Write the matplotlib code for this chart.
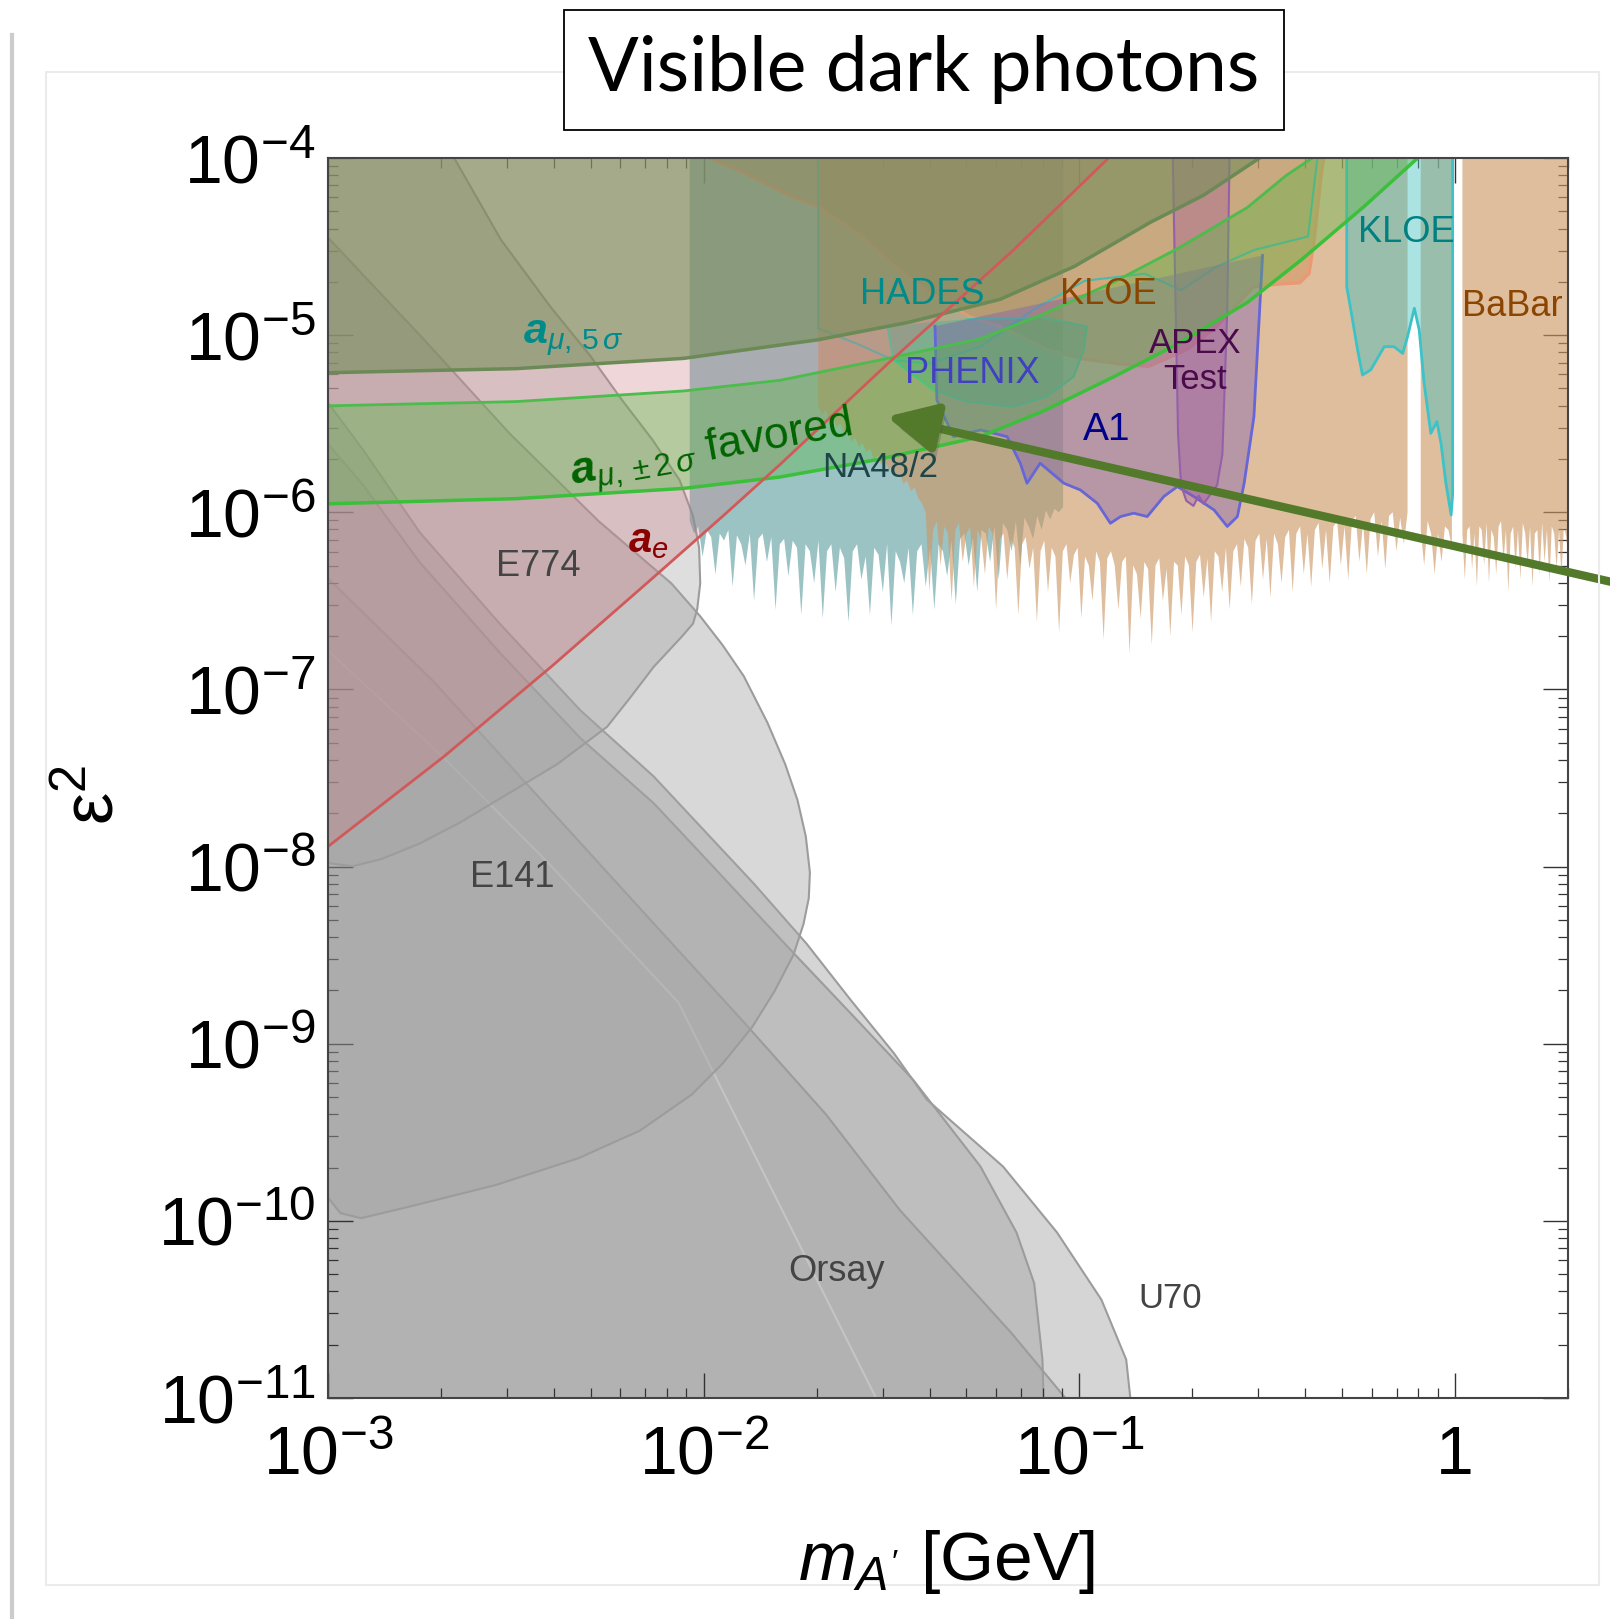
import numpy as np
import matplotlib
matplotlib.use("Agg")
import matplotlib.pyplot as plt
import matplotlib.patheffects as pe
from matplotlib.ticker import LogLocator, FixedLocator, FixedFormatter, NullFormatter
from matplotlib.patches import Rectangle
from matplotlib.lines import Line2D

plt.rcParams['font.family'] = ['Liberation Sans', 'DejaVu Sans']
plt.rcParams['mathtext.fontset'] = 'custom'
plt.rcParams['mathtext.rm'] = 'Liberation Sans'
plt.rcParams['mathtext.it'] = 'Liberation Sans:italic'
plt.rcParams['mathtext.bf'] = 'Liberation Sans:bold'
try:
    plt.rcParams['mathtext.bfit'] = 'Liberation Sans:bold:italic'
except KeyError:
    pass

# ---- data (log10 m [GeV], log10 eps^2) ----
# beam dumps
e774_m = [-2.664, -2.540, -2.408, -2.301, -2.218, -2.136, -2.064, -2.028, -2.012, -2.009, -2.017,
          -2.028, -2.059, -2.133, -2.196, -2.257, -2.389, -2.535, -2.650, -2.755, -2.857, -2.934, -3.0]
e774_e = [-4.0, -4.460, -4.839, -5.119, -5.364, -5.591, -5.818, -6.022, -6.20, -6.401, -6.547,
          -6.628, -6.704, -6.873, -7.048, -7.211, -7.421, -7.607, -7.753, -7.869, -7.957, -7.998, -7.980]
e141_m = [-3.0, -2.744, -2.516, -2.279, -2.086, -2.009, -1.949, -1.893, -1.830, -1.783, -1.750,
          -1.728, -1.717, -1.720, -1.734, -1.761, -1.811, -1.871, -1.949, -2.031, -2.169, -2.334,
          -2.554, -2.774, -2.912, -2.967, -3.0]
e141_e = [-4.449, -5.026, -5.556, -6.051, -6.401, -6.587, -6.751, -6.925, -7.188, -7.421, -7.625,
          -7.829, -8.033, -8.178, -8.324, -8.499, -8.703, -8.907, -9.111, -9.286, -9.490, -9.647,
          -9.798, -9.915, -9.985, -9.956, -9.868]
u70_m = [-3.0, -2.906, -2.755, -2.543, -2.328, -2.133, -1.866, -1.726, -1.610, -1.494, -1.406,
         -1.203, -1.059, -0.941, -0.875, -0.864]
u70_e = [-5.381, -5.649, -6.115, -6.628, -7.118, -7.491, -8.097, -8.435, -8.749, -9.052, -9.315,
         -9.693, -10.066, -10.445, -10.783, -11.0]
orsay_m = [-3.0, -2.906, -2.755, -2.543, -2.328, -2.133, -2.009, -1.761, -1.610, -1.442, -1.263,
           -1.167, -1.120, -1.098, -1.095]
orsay_e = [-5.614, -5.847, -6.284, -6.791, -7.275, -7.642, -7.922, -8.487, -8.825, -9.204, -9.693,
           -10.066, -10.352, -10.783, -11.0]
e137_m = [-3.0, -2.719, -2.444, -2.169, -1.893, -1.673, -1.478, -1.181, -1.037]
e137_e = [-6.372, -6.955, -7.596, -8.237, -8.878, -9.402, -9.938, -10.632, -11.0]
edge_m = [-3.0, -2.683, -2.408, -2.067, -1.541]
edge_e = [-6.780, -7.403, -7.992, -8.767, -11.0]

# anomalous moments
ae_m = [-3.0, -2.692, -2.403, -2.136, -1.949, -1.797, -1.503, -1.175, -0.922]
ae_e = [-7.887, -7.380, -6.867, -6.372, -6.022, -5.731, -5.148, -4.519, -4.0]
mu5_m = [-3.0, -2.499, -2.053, -1.695, -1.453, -1.211, -1.013, -0.809, -0.669, -0.52]
mu5_e = [-5.212, -5.189, -5.131, -5.026, -4.927, -4.798, -4.612, -4.361, -4.21, -4.0]
mu2hi_m = [-3.0, -2.499, -2.053, -1.797, -1.530, -1.263, -1.095, -0.908, -0.737, -0.553, -0.45, -0.38]
mu2hi_e = [-5.399, -5.375, -5.315, -5.255, -5.140, -5.02, -4.88, -4.70, -4.51, -4.28, -4.10, -4.0]
mu2lo_m = [-3.0, -2.499, -2.053, -1.797, -1.536, -1.263, -1.095, -0.908, -0.737, -0.553, -0.410,
           -0.242, -0.099]
mu2lo_e = [-5.952, -5.923, -5.865, -5.801, -5.702, -5.573, -5.428, -5.235, -5.049, -4.816, -4.577,
           -4.274, -4.0]

# collider / fixed target (lower edges, read left to right)
na48_range = (-2.037, -1.043)
na48_e = [-6.05, -6.12, -6.08, -6.25, -6.10, -6.14, -6.35, -6.12, -6.16, -6.10, -6.42, -6.13,
          -6.18, -6.30, -6.12, -6.50, -6.15, -6.12, -6.28, -6.14, -6.55, -6.18, -6.15, -6.36,
          -6.16, -6.20, -6.58, -6.18, -6.22, -6.40, -6.16, -6.60, -6.22, -6.18, -6.45, -6.20,
          -6.26, -6.62, -6.22, -6.18, -6.38, -6.25, -6.58, -6.20, -6.24, -6.45, -6.18, -6.64,
          -6.22, -6.28, -6.40, -6.20, -6.58, -6.22, -6.18, -6.42, -6.20, -6.55, -6.18, -6.22,
          -6.36, -6.16, -6.52, -6.15, -6.12, -6.30, -6.14, -6.45, -6.10, -6.12, -6.28, -6.08,
          -6.38, -6.06, -6.10, -6.22, -6.05, -6.30, -6.03, -6.08, -6.15, -6.02, -6.10, -5.99,
          -6.04, -5.98, -6.00, -5.97]
babar1_range = (-1.695, -0.126)
babar1_e = [-5.40, -5.45, -5.42, -5.48, -5.46, -5.52, -5.50, -5.56, -5.54, -5.60, -5.58, -5.63,
            -5.61, -5.66, -5.64, -5.70, -5.68, -5.73, -5.71, -5.76, -5.74, -5.80, -5.78, -5.84,
            -5.82, -5.88, -5.86, -5.92, -5.95, -6.00,
            -6.45, -6.10, -6.05, -6.30, -6.08, -6.12, -6.50, -6.10, -6.06, -6.28, -6.12, -6.08,
            -6.42, -6.10, -6.15, -6.35, -6.08, -6.12, -6.55, -6.15,
            -6.12, -6.38, -6.15, -6.20, -6.58, -6.18, -6.14, -6.32, -6.20, -6.62, -6.22, -6.16,
            -6.45, -6.20, -6.25, -6.68, -6.22, -6.18, -6.40, -6.24, -6.20, -6.60, -6.25, -6.30,
            -6.50, -6.22, -6.28, -6.72, -6.26, -6.22,
            -6.30, -6.55, -6.28, -6.25, -6.80, -6.30, -6.35, -6.60, -6.28, -6.32, -6.75, -6.30,
            -6.26, -6.50, -6.32, -6.70, -6.28, -6.30, -6.58, -6.25, -6.30, -6.68, -6.28, -6.24,
            -6.48, -6.26, -6.62, -6.22, -6.25, -6.45, -6.20, -6.55, -6.22,
            -6.18, -6.42, -6.15, -6.20, -6.52, -6.16, -6.12, -6.38, -6.15, -6.48, -6.12, -6.18,
            -6.40, -6.14, -6.10, -6.45, -6.12, -6.08, -6.35, -6.12, -6.42, -6.10, -6.06, -6.32,
            -6.10, -6.40, -6.08, -6.05, -6.30, -6.08, -6.38, -6.05, -6.02, -6.28, -6.06, -6.35,
            -6.04, -6.00, -6.25, -6.05, -6.32, -6.02, -6.00, -6.22, -6.03, -6.18, -6.00]
babar2_range = (-0.091, -0.008)
babar2_e = [-6.10, -6.30, -6.05, -6.12, -6.35, -6.12, -6.28, -6.08, -6.10, -6.20]
babar3_range = (0.020, 0.303)
babar3_e = [-6.12, -6.38, -6.10, -6.08, -6.32, -6.12, -6.42, -6.08, -6.10, -6.30, -6.06, -6.40,
            -6.10, -6.14, -6.35, -6.08, -6.05, -6.28, -6.10, -6.45, -6.12, -6.08, -6.32, -6.10,
            -6.38, -6.06, -6.12, -6.30, -6.08, -6.42, -6.12, -6.10, -6.35, -6.06, -6.28, -6.10,
            -6.40, -6.08, -6.12, -6.32, -6.10, -6.36, -6.08, -6.14, -6.30]
kloe_m = [-1.982, -1.888, -1.767, -1.695, -1.588, -1.492, -1.409, -1.291, -1.211, -1.084, -0.985,
          -0.903, -0.815, -0.710, -0.633, -0.537, -0.462, -0.413, -0.388, -0.374, -0.355, -0.349]
kloe_e = [-4.0, -4.087, -4.216, -4.274, -4.425, -4.612, -4.746, -4.897, -4.950, -5.084, -5.136,
          -5.160, -5.177, -5.078, -4.950, -4.728, -4.711, -4.705, -4.653, -4.460, -4.087, -4.0]
kloe2_m = [-0.288, -0.288, -0.277, -0.259, -0.246, -0.224, -0.188, -0.162, -0.139, -0.126, -0.108,
           -0.095, -0.082, -0.064, -0.048, -0.037, -0.024, -0.010, -0.006, -0.006]
kloe2_e = [-4.0, -4.726, -4.858, -5.084, -5.225, -5.196, -5.065, -5.065, -5.103, -5.008, -4.848,
           -4.971, -5.272, -5.554, -5.488, -5.610, -5.836, -6.015, -5.90, -4.0]
a1_m = [-1.384, -1.379, -1.335, -1.263, -1.192, -1.157, -1.139, -1.104, -1.041, -0.997, -0.952,
        -0.917, -0.890, -0.855, -0.819, -0.775, -0.739, -0.695, -0.641, -0.606, -0.579, -0.561,
        -0.535, -0.517, -0.512]
a1_e = [-4.95, -5.366, -5.573, -5.535, -5.573, -5.723, -5.836, -5.723, -5.836, -5.874, -5.949,
        -6.062, -6.024, -6.005, -6.024, -5.911, -5.855, -5.911, -5.987, -6.080, -6.024, -5.836,
        -5.460, -4.746, -4.55]
apex_m = [-0.751, -0.746, -0.737, -0.729, -0.715, -0.696, -0.682, -0.669, -0.649, -0.633, -0.619,
          -0.606, -0.600]
apex_e = [-4.0, -4.565, -5.556, -5.847, -5.935, -5.964, -5.906, -5.952, -5.894, -5.847, -5.672,
          -4.857, -4.0]
phenix_m = [-1.511, -1.494, -1.388, -1.299, -1.175, -1.086, -1.015, -0.988, -0.980, -1.10, -1.30]
phenix_e = [-4.95, -5.140, -5.309, -5.375, -5.404, -5.347, -5.234, -5.084, -4.95, -4.90, -4.91]
hades_m = [-1.695, -1.695, -1.591, -1.494, -1.398, -1.260, -1.123, -0.985, -0.825, -0.729, -0.633,
           -0.534, -0.391, -0.366]
hades_e = [-4.0, -4.962, -5.049, -5.142, -5.160, -5.061, -4.857, -4.693, -4.653, -4.746, -4.612,
           -4.519, -4.443, -4.0]

# labels: (text, log m, log eps2, color, size)
labels = [
    ("HADES", -1.417, -4.769, "#008b8b", 26),
    ("KLOE", -0.922, -4.769, "#8b4500", 26),
    ("KLOE", -0.129, -4.420, "#008080", 26),
    ("BaBar", 0.152, -4.839, "#8b4500", 26),
    ("APEX\nTest", -0.691, -5.150, "#4b0a4b", 25),
    ("PHENIX", -1.285, -5.218, "#4040c0", 26),
    ("A1", -0.927, -5.533, "#00008b", 28),
    ("NA48/2", -1.530, -5.748, "#1e4548", 25),
    ("E774", -2.441, -6.308, "#444444", 26),
    ("E141", -2.510, -8.062, "#444444", 26),
    ("Orsay", -1.646, -10.288, "#444444", 26),
    ("U70", -0.757, -10.439, "#444444", 25),
]
arrow_tip = (-1.512, -5.460)
arrow_tail = (1.04, 0.657)  # axes fraction

xticks = [1e-3, 1e-2, 1e-1, 1]
xticklabels = [r'$10^{-3}$', r'$10^{-2}$', r'$10^{-1}$', '1']
yticks = [10.0 ** k for k in range(-11, -3)]
yticklabels = [r'$10^{%d}$' % k for k in range(-11, -3)]

fig = plt.figure(figsize=(16.1, 16.19), dpi=100)
ax = fig.add_axes([0.2037, 0.1365, 0.7702, 0.7659])
ax.set_xscale('log')
ax.set_yscale('log')


def region(lm, le, fc, alpha, ec=None, lw=1.5, z=1, close_m=(), close_e=(), ealpha=1.0):
    m = 10 ** np.asarray(list(lm) + list(close_m), dtype=float)
    e = 10 ** np.asarray(list(le) + list(close_e), dtype=float)
    ax.fill(m, e, facecolor=fc, alpha=alpha, edgecolor='none', zorder=z)
    if ec:
        ax.plot(10 ** np.asarray(lm, dtype=float), 10 ** np.asarray(le, dtype=float),
                color=ec, lw=lw, alpha=ealpha, zorder=z + 0.05)


def jagged(rng, le, fc, alpha, z):
    lm = np.linspace(rng[0], rng[1], len(le))
    region(lm, le, fc, alpha, close_m=[rng[1], rng[0]], close_e=[-4.0, -4.0], z=z)


gray = '#a4a4a4'
gedge = '#9c9c9c'
region(u70_m, u70_e, gray, 0.46, gedge, close_m=[-3.0], close_e=[-11.0], z=1)
region(orsay_m, orsay_e, gray, 0.46, gedge, close_m=[-3.0], close_e=[-11.0], z=1.2)
region(e137_m, e137_e, gray, 0.46, gedge, close_m=[-3.0], close_e=[-11.0], z=1.4)
ax.plot(10 ** np.array(edge_m), 10 ** np.array(edge_e), color='#c4c4c4', lw=1.5, zorder=1.5)
region(e141_m, e141_e, gray, 0.42, gedge, z=1.6)
region(e774_m, e774_e, gray, 0.36, gedge, close_m=[-3.0], close_e=[-4.0], z=1.8)

# NA48/2 then BaBar
jagged(na48_range, na48_e, (0.37, 0.62, 0.63), 0.62, z=2.0)
for rng, be in [(babar1_range, babar1_e), (babar2_range, babar2_e), (babar3_range, babar3_e)]:
    jagged(rng, be, (0.80, 0.59, 0.39), 0.62, z=2.2)

# KLOE (upper), HADES, PHENIX, A1, APEX, KLOE (right)
region(kloe_m, kloe_e, (0.80, 0.50, 0.26), 0.38, (0.92, 0.60, 0.45), lw=2.2, z=2.4)
region(hades_m, hades_e, (0.40, 0.75, 0.62), 0.12, (0.30, 0.72, 0.68), lw=1.5, z=2.5)
region(phenix_m, phenix_e, (0.18, 0.72, 0.58), 0.38, (0.25, 0.80, 0.62), lw=1.5, z=2.6)
region(a1_m, a1_e, (0.50, 0.38, 0.70), 0.42, (0.40, 0.40, 0.84), lw=2, z=2.7)
region(apex_m, apex_e, (0.62, 0.33, 0.62), 0.35, (0.58, 0.38, 0.66), lw=1.5, z=2.8)
region(kloe2_m, kloe2_e, (0.27, 0.75, 0.75), 0.45, (0.24, 0.76, 0.78), lw=2, z=2.9)

# a_e
region(ae_m, ae_e, (0.80, 0.47, 0.51), 0.30, close_m=[-3.0], close_e=[-4.0], z=3)
# a_mu 5 sigma
region(mu5_m, mu5_e, (0.47, 0.56, 0.36), 0.62, close_m=[-3.0], close_e=[-4.0], z=3.2)
ax.plot(10 ** np.array(mu5_m), 10 ** np.array(mu5_e), color='#6b8a55', lw=2.5, zorder=3.3)
# a_mu +-2 sigma band
bm = list(mu2hi_m) + list(mu2lo_m[::-1])
be = list(mu2hi_e) + list(mu2lo_e[::-1])
ax.fill(10 ** np.array(bm), 10 ** np.array(be), facecolor=(0.35, 0.72, 0.27), alpha=0.38,
        edgecolor='none', zorder=3.4)
ax.plot(10 ** np.array(mu2hi_m), 10 ** np.array(mu2hi_e), color='#4cbc4c', lw=2, zorder=3.5)
ax.plot(10 ** np.array(mu2lo_m), 10 ** np.array(mu2lo_e), color='#3cc03c', lw=2.5, zorder=3.5)
ax.plot(10 ** np.array(ae_m), 10 ** np.array(ae_e), color='#d05a5a', lw=2, zorder=3.6)

ax.set_xlim(1e-3, 2.0)
ax.set_ylim(1e-11, 1e-4)

# labels
for txt, lm, le, col, fs in labels:
    ax.text(10 ** lm, 10 ** le, txt, color=col, fontsize=fs, ha='center', va='center',
            linespacing=1.12, zorder=10)
ax.text(10 ** -2.147, 10 ** -6.16, r'$\mathbfit{a}_{e}$', color='#8b0000', fontsize=30,
        ha='center', va='center', zorder=10)
ax.text(10 ** -2.348, 10 ** -5.02, r'$\mathbfit{a}_{\mu,\,5\,\sigma}$', color='#008b8b',
        fontsize=31, ha='center', va='center', zorder=10)
ax.text(10 ** -1.98, 10 ** -5.65, r'$\mathbfit{a}_{\mu,\pm 2\,\sigma}$ favored', color='#006400',
        fontsize=32, ha='center', va='center', rotation=10, zorder=10)

# arrow
ax.annotate('', xy=(10 ** arrow_tip[0], 10 ** arrow_tip[1]), xycoords='data',
            xytext=arrow_tail, textcoords='axes fraction', annotation_clip=False, zorder=20,
            arrowprops=dict(arrowstyle='-|>,head_length=1.0,head_width=0.5', mutation_scale=30,
                            lw=6, color='#527a2a', shrinkA=0, shrinkB=0,
                            path_effects=[pe.withSimplePatchShadow(offset=(3, -7),
                                                                   shadow_rgbFace='#555555',
                                                                   alpha=0.3)]))

# axes styling
ax.xaxis.set_major_locator(FixedLocator(xticks))
ax.xaxis.set_major_formatter(FixedFormatter(xticklabels))
ax.yaxis.set_major_locator(FixedLocator(yticks))
ax.yaxis.set_major_formatter(FixedFormatter(yticklabels))
ax.xaxis.set_minor_locator(LogLocator(base=10, subs=np.arange(2, 10), numticks=30))
ax.yaxis.set_minor_locator(LogLocator(base=10, subs=np.arange(2, 10), numticks=30))
ax.xaxis.set_minor_formatter(NullFormatter())
ax.yaxis.set_minor_formatter(NullFormatter())
ax.tick_params(which='major', direction='in', length=18, width=1.0, color='#333333',
               top=True, right=True, labelsize=49)
ax.tick_params(which='minor', direction='in', length=7, width=0.9, color='#333333',
               top=True, right=True)
ax.tick_params(axis='x', which='major', pad=19)
ax.tick_params(axis='y', which='major', pad=9)
for s in ax.spines.values():
    s.set_color('#444444')
    s.set_linewidth(1.5)
    s.set_zorder(15)

fig.text(0.5876, 0.0241, r"$m_{A'}$ [GeV]", fontsize=50, ha='center', va='baseline')
fig.text(0.058, 0.509, r'$\mathrm{\varepsilon}^{2}$', fontsize=52, ha='center', va='center',
         rotation=90)

# panel frame and title box
fig.patches.append(Rectangle((46 / 1610, 1 - 1585 / 1619), 1553 / 1610, 1513 / 1619,
                             transform=fig.transFigure, fill=False, ec='#ebebeb', lw=1.5))
fig.lines.append(Line2D([12 / 1610, 12 / 1610], [0, 1 - 35 / 1619], transform=fig.transFigure,
                        color='#cccccc', lw=3))
fig.patches.append(Rectangle((564 / 1610, 1 - 130 / 1619), 720 / 1610, 120 / 1619,
                             transform=fig.transFigure, fc='white', ec='black', lw=1.3))
fig.text(924 / 1610, 1 - 70 / 1619, 'Visible dark photons', fontsize=54, family='Lato',
         ha='center', va='center')

fig.savefig('out.png', dpi=100)
